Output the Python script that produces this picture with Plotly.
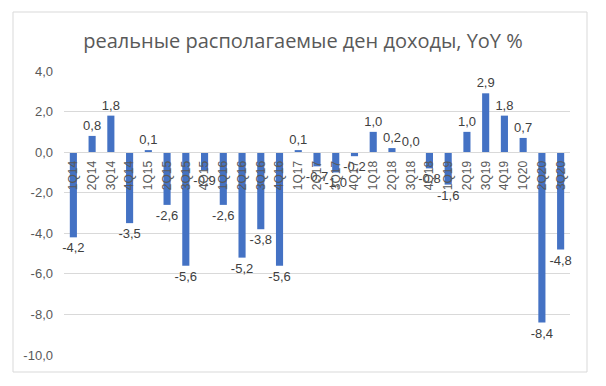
import plotly.graph_objects as go

categories = ["1Q14", "2Q14", "3Q14", "4Q14", "1Q15", "2Q15", "3Q15", "4Q15",
              "1Q16", "2Q16", "3Q16", "4Q16", "1Q17", "2Q17", "3Q17", "4Q17",
              "1Q18", "2Q18", "3Q18", "4Q18", "1Q19", "2Q19", "3Q19", "4Q19",
              "1Q20", "2Q20", "3Q20"]
values = [-4.2, 0.8, 1.8, -3.5, 0.1, -2.6, -5.6, -0.9,
          -2.6, -5.2, -3.8, -5.6, 0.1, -0.7, -1.0, -0.2,
          1.0, 0.2, 0.0, -0.8, -1.6, 1.0, 2.9, 1.8,
          0.7, -8.4, -4.8]
y_ticks = [4, 2, 0, -2, -4, -6, -8, -10]
title = "реальные располагаемые ден доходы, YoY %"

def fmt(v):
    return f"{v:.1f}".replace(".", ",")

labels = [fmt(v) for v in values]
y_tick_text = [fmt(v) for v in y_ticks]

W, H = 606, 386
ml, mr, mt, mb = 64, 36, 71, 31
ymin, ymax = -10, 4

fig = go.Figure(go.Bar(
    x=categories, y=values,
    marker=dict(color="#4472C4", line=dict(width=0)),
    text=labels, textposition="outside", cliponaxis=False,
    constraintext="none",
    textfont=dict(family="Liberation Sans, Arial", size=13, color="#404040"),
    width=0.38,
))

pw = W - ml - mr
ph = H - mt - mb
def px_x(x):
    return (x - ml) / pw
def px_y(y):
    return (H - mb - y) / ph

fig.update_layout(
    width=W, height=H,
    margin=dict(l=ml, r=mr, t=mt, b=mb, autoexpand=False),
    paper_bgcolor="white", plot_bgcolor="white",
    showlegend=False,
    title=dict(text=title, x=0.5, xanchor="center", y=1 - 41 / H, yanchor="middle",
               font=dict(family="Open Sans, Liberation Sans", size=20, color="#595959")),
    yaxis=dict(range=[ymin, ymax], tickvals=y_ticks, ticktext=y_tick_text,
               automargin=False,
               showgrid=True, gridcolor="#d9d9d9", gridwidth=1,
               zeroline=False, showline=False, ticks="",
               ticklabelstandoff=10,
               tickfont=dict(family="Liberation Sans, Arial", size=13, color="#595959")),
    xaxis=dict(type="category", anchor="free", position=(0 - ymin) / (ymax - ymin),
               automargin=False,
               tickangle=-90, showgrid=False, zeroline=False,
               showline=True, linecolor="#d9d9d9", linewidth=1, ticks="",
               ticklabelstandoff=3,
               tickfont=dict(family="Liberation Sans, Arial", size=12, color="#595959")),
    shapes=[dict(type="rect", xref="paper", yref="paper",
                 x0=px_x(13), x1=px_x(587), y0=px_y(372), y1=px_y(12),
                 line=dict(color="#d9d9d9", width=1), fillcolor="rgba(0,0,0,0)",
                 layer="below")],
)

fig.write_html("out.html", config={"displayModeBar": False},
               post_script="document.body.style.margin='0';document.body.style.overflow='hidden';")
